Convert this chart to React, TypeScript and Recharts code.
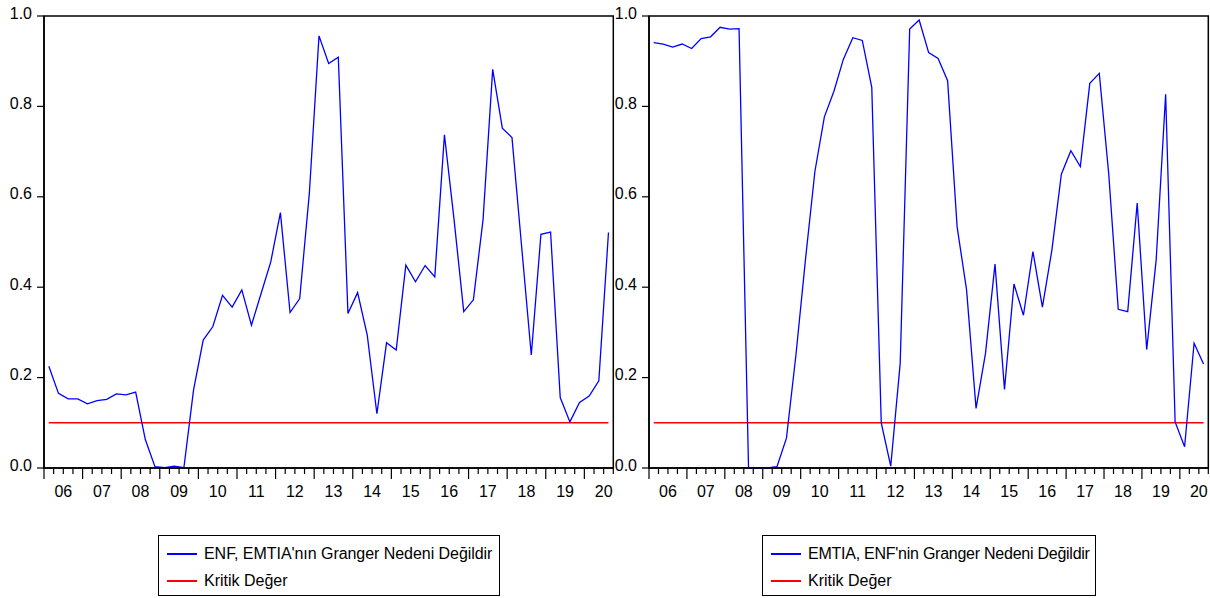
import React from "react";
import { LineChart, Line, XAxis, YAxis, ReferenceArea } from "recharts";

// quarterly rolling Granger p-values, 2006Q1 - 2020Q3
const ENF_EMTIA = [
  0.225, 0.165, 0.153, 0.153, 0.142, 0.149, 0.152, 0.164, 0.162, 0.168,
  0.063, 0.003, 0.001, 0.004, 0.001, 0.173, 0.283, 0.313, 0.382, 0.356,
  0.394, 0.316, 0.386, 0.456, 0.565, 0.344, 0.375, 0.608, 0.956, 0.895,
  0.909, 0.342, 0.388, 0.294, 0.12, 0.277, 0.261, 0.449, 0.412, 0.448,
  0.423, 0.737, 0.549, 0.346, 0.372, 0.549, 0.882, 0.752, 0.731, 0.49,
  0.25, 0.517, 0.522, 0.156, 0.102, 0.145, 0.159, 0.193, 0.521,
];

const EMTIA_ENF = [
  0.941, 0.938, 0.931, 0.938, 0.928, 0.95, 0.954, 0.975, 0.971, 0.972,
  0.0, 0.0, 0.0, 0.003, 0.066, 0.25, 0.46, 0.656, 0.777, 0.833,
  0.904, 0.952, 0.946, 0.842, 0.1, 0.004, 0.232, 0.971, 0.991, 0.919,
  0.906, 0.857, 0.534, 0.394, 0.132, 0.254, 0.451, 0.174, 0.407, 0.338,
  0.479, 0.356, 0.482, 0.65, 0.702, 0.667, 0.851, 0.873, 0.65, 0.351,
  0.346, 0.586, 0.262, 0.46, 0.827, 0.102, 0.047, 0.276, 0.23,
];

const KRITIK_DEGER = 0.1;

const YEARS = ["06", "07", "08", "09", "10", "11", "12", "13", "14", "15", "16", "17", "18", "19", "20"];
const Y_TICKS = [0, 0.2, 0.4, 0.6, 0.8, 1.0];

const N_QUARTERS = ENF_EMTIA.length;
const QUARTER_TICKS = Array.from({ length: N_QUARTERS + 1 }, (_, i) => i);

const FONT = "'Liberation Sans', Arial, sans-serif";

function makeRows(values: number[]) {
  return values.map((v, i) => ({ t: i + 0.5, p: v, kritik: KRITIK_DEGER }));
}

const XTick = (props: any) => {
  const { x, y, payload } = props;
  const v = payload.value;
  const major = v % 4 === 0;
  return (
    <g>
      <line x1={x} y1={y} x2={x} y2={y + (major ? 11 : 6)} stroke="#000" strokeWidth={1.2} />
      {v % 4 === 2 && (
        <text x={x} y={y + 29} textAnchor="middle" fontSize={16} fontFamily={FONT} fill="#000">
          {YEARS[(v - 2) / 4]}
        </text>
      )}
    </g>
  );
};

const YTick = (props: any) => {
  const { x, y, payload } = props;
  return (
    <text x={x} y={y + 2.5} textAnchor="end" fontSize={16} fontFamily={FONT} fill="#000">
      {payload.value.toFixed(1)}
    </text>
  );
};

function Panel({ values, left, width, right }: any) {
  const data = makeRows(values);
  return (
    <div style={{ position: "absolute", left, top: 0 }}>
      <LineChart width={width} height={500} data={data} margin={{ top: 16, right, left: 0, bottom: 0 }}>
        <XAxis
          type="number"
          dataKey="t"
          domain={[0, N_QUARTERS]}
          ticks={QUARTER_TICKS}
          interval={0}
          tickSize={0}
          tickMargin={0}
          height={32}
          tick={XTick}
          axisLine={{ stroke: "#000", strokeWidth: 1.5 }}
        />
        <YAxis
          type="number"
          domain={[0, 1]}
          ticks={Y_TICKS}
          interval={0}
          width={44}
          tickSize={7}
          tickMargin={5}
          tick={YTick}
          tickLine={{ stroke: "#000", strokeWidth: 1.2 }}
          axisLine={{ stroke: "#000", strokeWidth: 1.5 }}
        />
        <ReferenceArea x1={0} x2={N_QUARTERS} y1={0} y2={1} fill="none" stroke="#000" strokeWidth={1.5} />
        <Line
          dataKey="kritik"
          stroke="#ff0000"
          strokeWidth={1.5}
          dot={false}
          isAnimationActive={false}
        />
        <Line dataKey="p" stroke="#0000ff" strokeWidth={1.3} dot={false} isAnimationActive={false} />
      </LineChart>
    </div>
  );
}

function LegendBox({ left, width, label, spacing }: any) {
  const row = (color: string, text: string, top: number, ls: number) => (
    <div style={{ position: "absolute", left: 8, top, display: "flex", alignItems: "center", whiteSpace: "nowrap" }}>
      <div style={{ width: 30, height: 2, background: color, marginRight: 7, flexShrink: 0 }} />
      <span
        style={{
          fontSize: 16,
          fontFamily: FONT,
          color: "#000",
          lineHeight: "18px",
          whiteSpace: "nowrap",
          letterSpacing: ls,
        }}
      >
        {text}
      </span>
    </div>
  );
  return (
    <div
      style={{
        position: "absolute",
        left,
        top: 535,
        width,
        height: 61,
        border: "1px solid #000",
        boxSizing: "border-box",
        background: "#fff",
      }}
    >
      {row("#0000ff", label, 9, spacing)}
      {row("#ff0000", "Kritik Değer", 36, 0)}
    </div>
  );
}

export default function App() {
  return (
    <div style={{ position: "absolute", left: 0, top: 0, width: 1210, height: 598, background: "#fff" }}>
      <Panel values={ENF_EMTIA} left={0} width={620} right={6.7} />
      <Panel values={EMTIA_ENF} left={605} width={605} right={1.7} />
      <LegendBox left={158} width={342} label="ENF, EMTIA'nın Granger Nedeni Değildir" spacing={-0.05} />
      <LegendBox left={762} width={334} label="EMTIA, ENF'nin Granger Nedeni Değildir" spacing={-0.25} />
    </div>
  );
}
